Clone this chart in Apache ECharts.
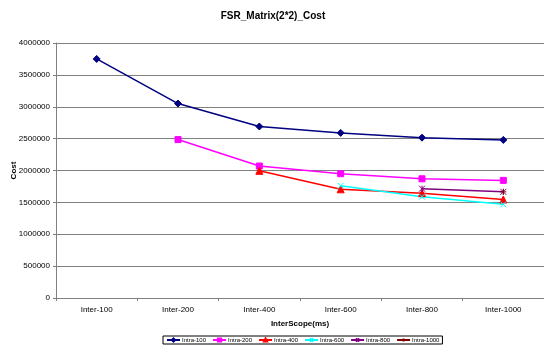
<!DOCTYPE html>
<html>
<head>
<meta charset="utf-8">
<script src="https://cdn.jsdelivr.net/npm/echarts@6/dist/echarts.min.js"></script>
<style>
html,body{margin:0;padding:0;background:#fff;}
#chart{width:544px;height:353px;}
</style>
</head>
<body>
<div id="chart"></div>
<script>
// Categories and series values
const categories = ['Inter-100', 'Inter-200', 'Inter-400', 'Inter-600', 'Inter-800', 'Inter-1000'];
const intra100 = [3750000, 3050000, 2690000, 2590000, 2515000, 2480000];
const intra200 = [null, 2485000, 2070000, 1950000, 1870000, 1845000];
const intra400 = [null, null, 1995000, 1705000, 1645000, 1545000];
const intra600 = [null, null, null, 1760000, 1590000, 1470000];
const intra800 = [null, null, null, null, 1715000, 1665000];
const intra1000 = [null, null, null, null, null, 1665000];
const seriesNames = ['Intra-100', 'Intra-200', 'Intra-400', 'Intra-600', 'Intra-800', 'Intra-1000'];
const yTicks = [0, 500000, 1000000, 1500000, 2000000, 2500000, 3000000, 3500000, 4000000];

const FONT = '"Liberation Sans", Arial, sans-serif';
const chart = echarts.init(document.getElementById('chart'), null, {renderer: 'canvas'});

const styles = [
  {color: '#000080', symbol: 'diamond', size: 7},
  {color: '#FF00FF', symbol: 'rect', size: 6},
  {color: '#FF0000', symbol: 'triangle', size: 7},
  {color: '#00FFFF', symbol: 'path://M0,0L10,10M10,0L0,10', size: 6},
  {color: '#800080', symbol: 'path://M0,0L10,10M10,0L0,10M5,0L5,10', size: 6},
  {color: '#800000', symbol: 'path://M5,0L5,10M0,5L10,5', size: 6}
];
const values = [intra100, intra200, intra400, intra600, intra800, intra1000];

const series = values.map((data, i) => ({
  name: seriesNames[i],
  type: 'line',
  data: data,
  symbol: styles[i].symbol,
  symbolSize: styles[i].size,
  showAllSymbol: true,
  connectNulls: false,
  lineStyle: {color: styles[i].color, width: 1.5},
  itemStyle: {color: styles[i].color, borderColor: styles[i].color, borderWidth: 1},
  emphasis: {disabled: true},
  animation: false
}));

chart.setOption({
  backgroundColor: '#fff',
  animation: false,
  title: {
    text: 'FSR_Matrix(2*2)_Cost',
    left: 268,
    textAlign: 'center',
    top: 6,
    textStyle: {fontFamily: FONT, fontSize: 10, fontWeight: 'bold', color: '#000'}
  },
  legend: {
    data: seriesNames,
    top: 336,
    left: 163,
    itemWidth: 13,
    itemHeight: 4,
    itemGap: 6,
    padding: [1, 3],
    borderColor: '#000',
    borderWidth: 1,
    textStyle: {fontFamily: FONT, fontSize: 6, color: '#000', padding: [0, 0, 0, -3]}
  },
  grid: {left: 56, right: 0, top: 43, bottom: 55, containLabel: false, outerBoundsMode: 'none'},
  xAxis: {
    type: 'category',
    data: categories,
    boundaryGap: true,
    name: 'InterScope(ms)',
    nameLocation: 'middle',
    nameGap: 22,
    nameMoveOverlap: false,
    nameTextStyle: {fontFamily: FONT, fontSize: 8, fontWeight: 'bold', color: '#000'},
    axisLine: {lineStyle: {color: '#808080', width: 1}},
    axisTick: {show: true, alignWithLabel: false, length: 3, lineStyle: {color: '#808080'}},
    axisLabel: {fontFamily: FONT, fontSize: 8, color: '#000', margin: 8, interval: 0}
  },
  yAxis: {
    type: 'value',
    min: yTicks[0],
    max: yTicks[yTicks.length - 1],
    interval: yTicks[1] - yTicks[0],
    name: 'Cost',
    nameLocation: 'middle',
    nameGap: 38,
    nameRotate: 90,
    nameMoveOverlap: false,
    nameTextStyle: {fontFamily: FONT, fontSize: 8, fontWeight: 'bold', color: '#000'},
    axisLine: {show: true, lineStyle: {color: '#808080', width: 1}},
    axisTick: {show: true, length: 3, lineStyle: {color: '#808080'}},
    axisLabel: {fontFamily: FONT, fontSize: 8, color: '#000', margin: 6, formatter: v => String(v)},
    splitLine: {show: true, lineStyle: {color: '#808080', width: 1}}
  },
  series: series
});
</script>
</body>
</html>
